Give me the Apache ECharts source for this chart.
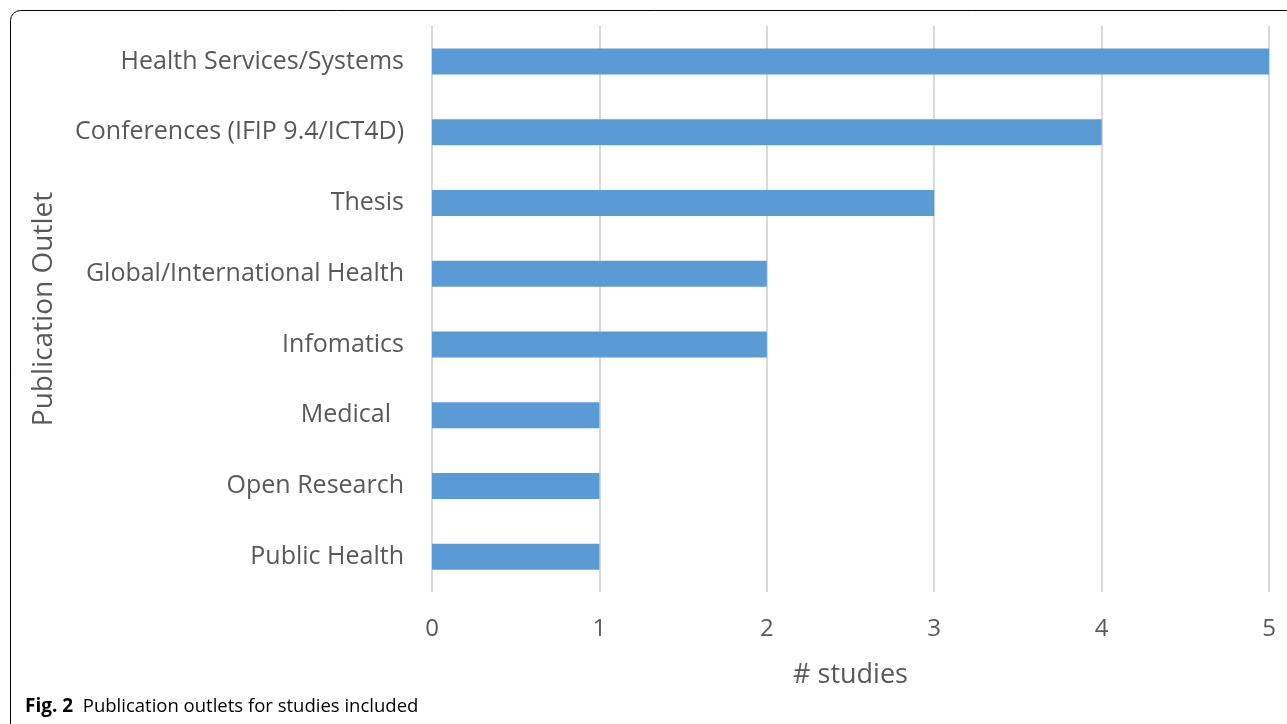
<!DOCTYPE html>
<html>
<head>
<meta charset="utf-8">
<script src="https://cdn.jsdelivr.net/npm/echarts@6/dist/echarts.min.js"></script>
<style>
  html, body { margin: 0; padding: 0; background: #fff; }
  #chart { width: 1287px; height: 724px; }
</style>
</head>
<body>
<div id="chart"></div>
<script>
// Publication outlets of the included studies
const outlets = [
  'Health Services/Systems',
  'Conferences (IFIP 9.4/ICT4D)',
  'Thesis',
  'Global/International Health',
  'Infomatics',
  'Medical  ',
  'Open Research',
  'Public Health'
];
const studyCounts = [5, 4, 3, 2, 2, 1, 1, 1];
const xTicks = { min: 0, max: 5, interval: 1 };

const font = '"Open Sans", "DejaVu Sans", sans-serif';
const chart = echarts.init(document.getElementById('chart'));

chart.setOption({
  animation: false,
  backgroundColor: '#ffffff',
  grid: { left: 432, right: 18, top: 26, bottom: 132 },
  xAxis: {
    type: 'value',
    min: xTicks.min,
    max: xTicks.max,
    interval: xTicks.interval,
    name: '# studies',
    nameLocation: 'middle',
    nameGap: 70,
    nameTextStyle: { fontFamily: font, fontSize: 27, color: '#595959' },
    axisLine: { show: false },
    axisTick: { show: false },
    axisLabel: { margin: 25, fontFamily: font, fontSize: 24, color: '#595959' },
    splitLine: { show: true, lineStyle: { color: '#d9d9d9', width: 2 } }
  },
  yAxis: {
    type: 'category',
    data: outlets,
    inverse: true,
    name: 'Publication Outlet',
    nameLocation: 'middle',
    nameGap: 374,
    nameTextStyle: { fontFamily: font, fontSize: 28, color: '#595959' },
    axisLine: { show: false },
    axisTick: { show: false },
    axisLabel: { margin: 28, fontFamily: font, fontSize: 25, color: '#595959' }
  },
  series: [{
    type: 'bar',
    data: studyCounts,
    barWidth: 26,
    itemStyle: { color: '#5b9bd5' }
  }],
  graphic: [
    {
      type: 'rect',
      silent: true,
      shape: { x: 10.5, y: 10.5, width: 1300, height: 740, r: 10 },
      style: { fill: 'none', stroke: '#000000', lineWidth: 1 }
    },
    {
      type: 'text',
      left: 25,
      top: 697,
      style: {
        rich: {
          b: { fontFamily: font, fontSize: 19, fontWeight: 'bold', fill: '#000' },
          n: { fontFamily: font, fontSize: 18.5, fill: '#000' }
        },
        text: '{b|Fig. 2}{n|  Publication outlets for studies included}'
      }
    }
  ]
});
</script>
</body>
</html>
